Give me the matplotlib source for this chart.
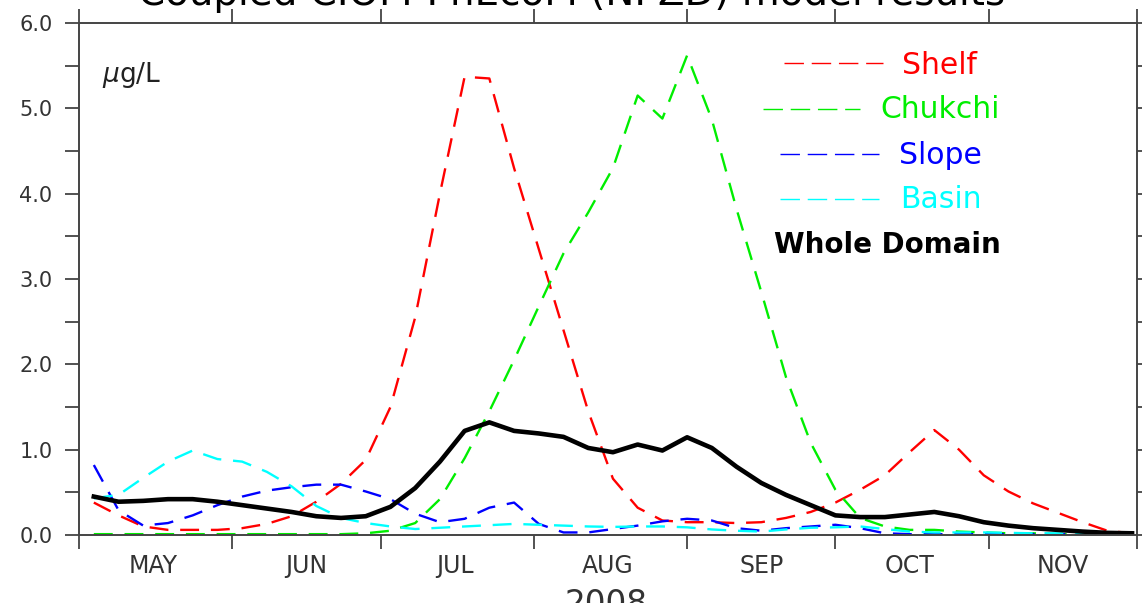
import matplotlib
matplotlib.use('Agg')
import matplotlib.pyplot as plt
import matplotlib.dates as mdates
from matplotlib.ticker import MultipleLocator, NullFormatter, FuncFormatter, FormatStrFormatter
import pandas as pd

# 5-day model output, 4 May - 29 Nov 2008
dates = pd.date_range('2008-05-04', periods=43, freq='5D')

shelf = [0.38, 0.23, 0.10, 0.06, 0.06, 0.06, 0.08, 0.13, 0.22, 0.39,
         0.60, 0.88, 1.50, 2.55, 4.00, 5.37, 5.35, 4.30, 3.35, 2.40,
         1.45, 0.66, 0.32, 0.17, 0.15, 0.15, 0.14, 0.15, 0.20, 0.27,
         0.38, 0.53, 0.70, 0.97, 1.23, 1.00, 0.70, 0.51, 0.37, 0.26,
         0.15, 0.05, 0.02]
chukchi = [0.01, 0.01, 0.01, 0.01, 0.01, 0.01, 0.01, 0.01, 0.01, 0.01,
           0.01, 0.02, 0.05, 0.14, 0.42, 0.90, 1.45, 2.05, 2.68, 3.30,
           3.78, 4.30, 5.15, 4.88, 5.62, 4.87, 3.82, 2.85, 1.85, 1.08,
           0.53, 0.20, 0.10, 0.06, 0.06, 0.04, 0.03, 0.02, 0.02, 0.01,
           0.01, 0.01, 0.01]
slope = [0.82, 0.29, 0.11, 0.14, 0.23, 0.35, 0.45, 0.52, 0.56, 0.59,
         0.59, 0.51, 0.42, 0.25, 0.15, 0.19, 0.32, 0.38, 0.13, 0.03,
         0.03, 0.07, 0.11, 0.16, 0.19, 0.17, 0.08, 0.05, 0.08, 0.10,
         0.12, 0.08, 0.02, 0.01, 0.01, 0.01, 0.01, 0.01, 0.01, 0.01,
         0.01, 0.01, 0.01]
basin = [0.43, 0.47, 0.67, 0.86, 0.99, 0.89, 0.86, 0.74, 0.57, 0.34,
         0.20, 0.14, 0.10, 0.07, 0.085, 0.10, 0.115, 0.13, 0.12, 0.11,
         0.10, 0.095, 0.10, 0.10, 0.09, 0.065, 0.05, 0.04, 0.065, 0.085,
         0.09, 0.10, 0.07, 0.04, 0.03, 0.03, 0.03, 0.025, 0.02, 0.02,
         0.015, 0.01, 0.01]
whole = [0.45, 0.39, 0.40, 0.42, 0.42, 0.39, 0.35, 0.31, 0.27, 0.22,
         0.20, 0.22, 0.33, 0.55, 0.86, 1.22, 1.32, 1.22, 1.19, 1.15,
         1.02, 0.97, 1.06, 0.99, 1.145, 1.02, 0.80, 0.61, 0.47, 0.35,
         0.23, 0.21, 0.21, 0.24, 0.27, 0.22, 0.15, 0.11, 0.08, 0.06,
         0.04, 0.025, 0.02]

series = [('Shelf', shelf, '#ff0000'),
          ('Chukchi', chukchi, '#00ee00'),
          ('Slope', slope, '#0000ff'),
          ('Basin', basin, '#00ffff')]

axis_col = '#444444'
W, H = 1142, 603
fig = plt.figure(figsize=(W / 100, H / 100), dpi=100)
ax = fig.add_axes([79 / W, 1 - 535 / H, 1058 / W, 512 / H])

for name, vals, col in series:
    ax.plot(dates, vals, color=col, lw=1.7, linestyle=(0, (8, 5)))
ax.plot(dates, whole, color='black', lw=3.3)

ax.set_xlim(pd.Timestamp('2008-05-01'), pd.Timestamp('2008-12-01'))
ax.set_ylim(0, 6)

# month boundaries as ticks, month names centred in between
ax.xaxis.set_major_locator(mdates.MonthLocator())
ax.xaxis.set_major_formatter(NullFormatter())
ax.xaxis.set_minor_locator(mdates.MonthLocator(bymonthday=16))
ax.xaxis.set_minor_formatter(FuncFormatter(lambda v, p: mdates.num2date(v).strftime('%b').upper()))
ax.yaxis.set_major_locator(MultipleLocator(1))
ax.yaxis.set_minor_locator(MultipleLocator(0.5))
ax.yaxis.set_major_formatter(FormatStrFormatter('%.1f'))

ax.tick_params(which='both', direction='out', top=True, right=True,
               length=10, width=1.3, color=axis_col, labelcolor='#333333')
ax.tick_params(axis='x', which='minor', length=0, pad=13.5, labelsize=17)
ax.tick_params(axis='y', which='major', pad=9, labelsize=15)
for lab in ax.get_xticklabels(minor=True):
    lab.set_family(['Liberation Sans Narrow', 'DejaVu Sans'])
for sp in ax.spines.values():
    sp.set_color(axis_col)
    sp.set_linewidth(1.4)

# units label
fig.text(102 / W, 1 - 82 / H, r'$\mu$g/L', fontsize=19, color='#222222', va='baseline')

# legend drawn by hand: dashed sample, label centred to its right
legend_rows = [('Shelf', '#ff0000', 784, 883, 62.7, 940, 74),
               ('Chukchi', '#00ee00', 763, 860, 109, 940, 118),
               ('Slope', '#0000ff', 780, 879, 154, 940, 164),
               ('Basin', '#00ffff', 780, 879, 199, 941, 208)]
for label, col, x0, x1, ly, tx, ty in legend_rows:
    fig.add_artist(plt.Line2D([x0 / W, x1 / W], [1 - ly / H, 1 - ly / H],
                              color=col, lw=1.0, linestyle=(0, (14, 5.6))))
    fig.text(tx / W, 1 - ty / H, label, color=col, fontsize=21.5,
             ha='center', va='baseline')
fig.text(887 / W, 1 - 253 / H, 'Whole Domain', color='black', fontsize=20,
         fontweight='bold', ha='center', va='baseline')

# title and year, both clipped by the figure edge as in the original
fig.text(572 / W, 1 - 5 / H, 'Coupled CIOM-PhEcoM (NPZD) model results',
         fontsize=28, ha='center', va='baseline', color='black')
fig.text(606 / W, 1 - 614 / H, '2008', fontsize=23.5, ha='center',
         va='baseline', color='#333333')

fig.savefig('out.png', dpi=100)
